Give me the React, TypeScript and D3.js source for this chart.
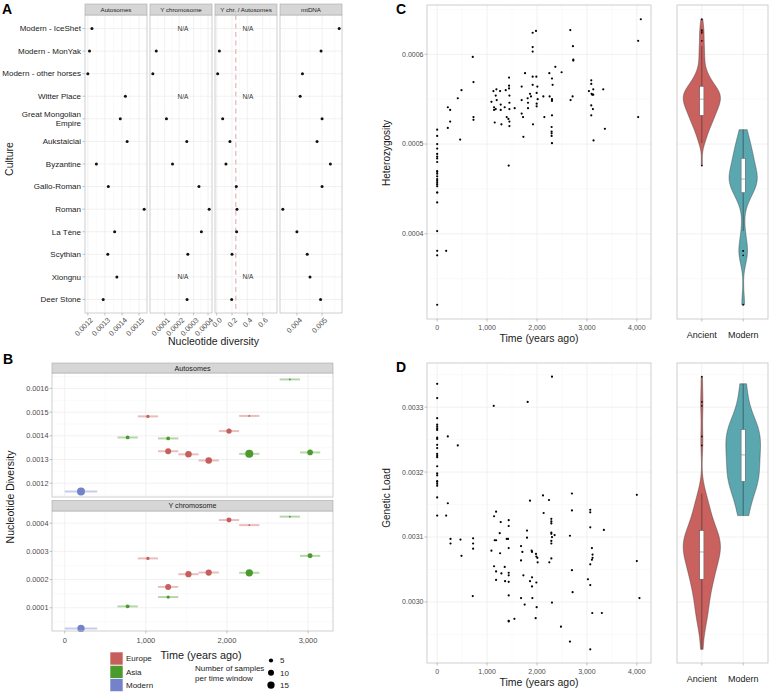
import React from "react";
import * as d3 from "d3";

const W = 770;
const H = 692;
const FONT = "'Liberation Sans', Arial, Helvetica, sans-serif";
const GRID_MAJOR = "#ebebeb";
const GRID_MINOR = "#f5f5f5";
const BORDER = "#c2c2c2";
const TICK_TEXT = "#4d4d4d";
const TICK = "#9a9a9a";

// ---------------- Panel A data ----------------
const cultures = [
  "Modern - IceShet",
  "Modern - MonYak",
  "Modern - other horses",
  "Witter Place",
  "Great Mongolian\nEmpire",
  "Aukstaiciai",
  "Byzantine",
  "Gallo-Roman",
  "Roman",
  "La Tène",
  "Scythian",
  "Xiongnu",
  "Deer Stone",
];
const autosomeDiversity = [0.001224, 0.00121, 0.0012, 0.00142, 0.00139, 0.00143, 0.00125, 0.00132, 0.00153, 0.001357, 0.001317, 0.00137, 0.00129];
const yChrDiversity = [null, 0.0000415, 0.0000176, null, 0.000112, 0.000253, 0.000154, 0.000337, 0.000408, 0.000354, 0.00026, null, 0.000255];
const yAutoRatio = [null, 0.035, 0.013, null, 0.078, 0.173, 0.121, 0.256, 0.265, 0.26, 0.2, null, 0.196];
const mtDNADiversity = [0.00568, 0.00496, 0.00422, 0.00413, 0.005, 0.0048, 0.00533, 0.005, 0.00344, 0.004, 0.00441, 0.00452, 0.00494];
const autosomeTicks = [0.0012, 0.0013, 0.0014, 0.0015];
const yChrTicks = [0.0001, 0.0002, 0.0003, 0.0004];
const ratioTicks = [0, 0.2, 0.4, 0.6];
const mtTicks = [0.004, 0.005];
const ratioDomain = [-0.022, 0.787];
const expectedRatio = 0.25;

// ---------------- Panel B data ----------------
const regions = ["Europe", "Asia", "Modern"];
const regionColors = ["#c65f5c", "#4b9a2c", "#7482c9"];
const bTimeTicks = [0, 1000, 2000, 3000];

const bAutoRegion = ["Asia", "Europe", "Europe", "Europe", "Asia", "Asia", "Europe", "Europe", "Europe", "Asia", "Asia", "Modern"];
const bAutoTime = [2775, 1025, 2275, 2025, 775, 1275, 1275, 1525, 1775, 2275, 3025, 200];
const bAutoValue = [0.001638, 0.001482, 0.001484, 0.00142, 0.001393, 0.001389, 0.001335, 0.001322, 0.001296, 0.001324, 0.00133, 0.001165];
const bAutoN = [1, 3, 1, 8, 4, 4, 10, 12, 12, 18, 9, 18];
const bAutoHalfWindow = [125, 125, 125, 125, 125, 125, 125, 125, 125, 125, 125, 200];
const bAutoTicks = [0.0012, 0.0013, 0.0014, 0.0015, 0.0016];
const bAutoDomain = [0.001142, 0.001665];

const bYRegion = ["Europe", "Europe", "Asia", "Asia", "Europe", "Europe", "Europe", "Asia", "Europe", "Asia", "Asia", "Modern"];
const bYTime = [2025, 2275, 2775, 3025, 1025, 1525, 1775, 2275, 1275, 1275, 775, 200];
const bYValue = [0.000411, 0.000393, 0.000423, 0.000284, 0.000275, 0.000219, 0.000225, 0.000224, 0.000174, 0.000138, 0.000105, 0.000027];
const bYN = [7, 1, 1, 7, 3, 11, 11, 15, 10, 3, 4, 15];
const bYHalfWindow = [125, 125, 125, 125, 125, 125, 125, 125, 125, 125, 125, 200];
const bYTicks = [0.0001, 0.0002, 0.0003, 0.0004];
const bYDomain = [0.0000177, 0.000443];
const sizeLegend = [5, 10, 15];

// ---------------- Panel C data (heterozygosity) ----------------
const MODERN_MAX_AGE = 180;
const groups = ["Ancient", "Modern"];
const groupColors = ["#c9625f", "#5ba7b0"];

const hetTime = [
  0, 0, 0, 0, 0, 0, 0, 0, 0, 0, 0, 0, 0, 0, 0, 0, 0, 0, 0, 0, 0, 0, 0, 0,
  180, 213, 260, 260, 213, 413, 487, 460, 713, 727, 727, 727,
  1087, 1127, 1140, 1140, 1153, 1173, 1187, 1193, 1173, 1260, 1273, 1273, 1287,
  1373, 1353, 1393, 1427, 1440, 1440, 1440, 1447, 1447, 1447, 1447, 1447, 1433,
  1553, 1693, 1693, 1693, 1720, 1727, 1760, 1813, 1820, 1820, 1860, 1880,
  1913, 1913, 1913, 1913, 1913, 1920, 1980, 1987, 2007, 1993, 2013, 1993, 1993,
  2127, 2147, 2247, 2253, 2300, 2313, 2300, 2300, 2300, 2293, 2293, 2293, 2293, 2300,
  2367, 2493, 2667, 2673, 2720, 2727, 2727, 2713,
  3040, 3087, 3087, 3093, 3107, 3127, 3087, 3087, 3120, 3127, 3133, 3327, 3360,
  4027, 4080, 4027,
];
const hetValue = [
  0.000516, 0.000509, 0.0005, 0.000495, 0.000489, 0.000486, 0.000484, 0.00048, 0.00047, 0.000469, 0.000467, 0.000464,
  0.000461, 0.000459, 0.000457, 0.000455, 0.000453, 0.000446, 0.000446, 0.000435, 0.000403, 0.000381, 0.000376, 0.000321,
  0.000381, 0.000541, 0.000538, 0.000525, 0.000518, 0.000551, 0.00056, 0.000505, 0.000597, 0.000569, 0.00053, 0.000527,
  0.000547, 0.000559, 0.000541, 0.000538, 0.000524, 0.000554, 0.000561, 0.000549, 0.000539, 0.000559, 0.000544, 0.000538, 0.000522,
  0.00056, 0.000541, 0.00053, 0.000528, 0.000574, 0.000565, 0.000562, 0.000554, 0.000546, 0.000539, 0.000525, 0.00052, 0.000476,
  0.00054, 0.000564, 0.000549, 0.000534, 0.00053, 0.000508, 0.000579, 0.000551, 0.000546, 0.00054, 0.000556, 0.000553,
  0.000624, 0.000608, 0.000603, 0.000575, 0.000566, 0.000522, 0.000626, 0.000575, 0.000564, 0.000557, 0.00055, 0.000545, 0.000542,
  0.000553, 0.00053, 0.000579, 0.000553, 0.000573, 0.000566, 0.00055, 0.000548, 0.000532, 0.000519, 0.000514, 0.000512, 0.000509, 0.000501,
  0.000586, 0.00058, 0.000627, 0.000549, 0.000609, 0.000594, 0.000593, 0.000553,
  0.000559, 0.000571, 0.000567, 0.000556, 0.000555, 0.000555, 0.000543, 0.000532, 0.000539, 0.000561, 0.000504, 0.000561, 0.000517,
  0.000615, 0.000639, 0.00053,
];
const hetTicks = [0.0004, 0.0005, 0.0006];

// ---------------- Panel D data (genetic load) ----------------
const loadTime = [
  0, 0, 0, 0, 0, 0, 0, 0, 0, 0, 0, 0, 0, 0, 0, 0, 0, 0, 0, 0, 0, 0, 0,
  213, 213, 180, 267, 267, 413, 467, 487, 720, 720, 720, 713,
  1133, 1087, 1140, 1180, 1153, 1180, 1140, 1180, 1180, 1273, 1253, 1260, 1287, 1353, 1360,
  1393, 1420, 1433, 1433, 1433, 1433, 1433, 1433, 1433, 1433, 1433, 1547,
  1680, 1707, 1680, 1727, 1680, 1753, 1800, 1800, 1813, 1860, 1860, 1893, 1900, 1900, 1900, 1907,
  1980, 1987, 2007, 2013, 1987, 1993, 1973, 2120, 2133, 2240, 2247,
  2287, 2287, 2287, 2287, 2287, 2287, 2287, 2287, 2300, 2353, 2300, 2300, 2480,
  2660, 2660, 2700, 2700, 2700, 2713,
  3020, 3067, 3067, 3067, 3067, 3067, 3067, 3100, 3113, 3113, 3100, 3107, 3300, 3340,
  4000, 4000, 4053,
];
const loadValue = [
  0.003336, 0.003314, 0.003283, 0.003273, 0.00327, 0.003267, 0.003265, 0.003253, 0.003251, 0.003242, 0.003237, 0.003228,
  0.003225, 0.003223, 0.003209, 0.003198, 0.003195, 0.003186, 0.003185, 0.003182, 0.003179, 0.003161, 0.003133,
  0.003255, 0.003152, 0.003133, 0.003097, 0.00309, 0.003241, 0.003096, 0.003071, 0.003098, 0.00309, 0.003082, 0.003009,
  0.003302, 0.003079, 0.003132, 0.003139, 0.003095, 0.003095, 0.003055, 0.003047, 0.003034, 0.003123, 0.003106, 0.003075, 0.003044, 0.003054, 0.003032,
  0.003097, 0.003097, 0.003126, 0.003117, 0.003083, 0.003045, 0.003041, 0.003031, 0.00301, 0.002971, 0.00297, 0.002974,
  0.003086, 0.003077, 0.003064, 0.003041, 0.003006, 0.002996, 0.00311, 0.003099, 0.003308, 0.003156, 0.003032, 0.003079, 0.003077, 0.003038, 0.003024, 0.003006,
  0.003074, 0.00307, 0.003068, 0.003061, 0.00303, 0.002992, 0.002975, 0.003164, 0.003137, 0.003157, 0.003061,
  0.003067, 0.003128, 0.003124, 0.003121, 0.003107, 0.003105, 0.003094, 0.00309, 0.0031, 0.003103, 0.003347, 0.002999, 0.002962,
  0.003102, 0.002939, 0.003167, 0.003141, 0.003049, 0.003015,
  0.003035, 0.003142, 0.003138, 0.003115, 0.003058, 0.003026, 0.002927, 0.003083, 0.003073, 0.003068, 0.003065, 0.002983, 0.002983, 0.003111,
  0.003165, 0.003063, 0.003006,
];
const loadTicks = [0.003, 0.0031, 0.0032, 0.0033];
const timeTicks = [0, 1000, 2000, 3000, 4000];

// ---------------- helpers ----------------
function expand(ext: number[], m = 0.05): [number, number] {
  const r = ext[1] - ext[0];
  return [ext[0] - r * m, ext[1] + r * m];
}
function minorTicks(ticks: number[], domain: number[]) {
  const step = ticks[1] - ticks[0];
  const out: number[] = [];
  for (let v = ticks[0] - step / 2; v <= domain[1] + 1e-15; v += step) {
    if (v >= domain[0]) out.push(v);
  }
  for (let v = ticks[0] - step * 1.5; v >= domain[0]; v -= step) out.push(v);
  return out;
}
function nrd0(x: number[]) {
  const s = [...x].sort(d3.ascending);
  const sd = d3.deviation(s) || 0;
  const iqr = (d3.quantile(s, 0.75) as number) - (d3.quantile(s, 0.25) as number);
  let lo = Math.min(sd, iqr / 1.34);
  if (!(lo > 0)) lo = sd || Math.abs(s[0]) || 1;
  return 0.9 * lo * Math.pow(s.length, -0.2);
}
function kde(x: number[], n = 512) {
  const bw = nrd0(x);
  const mn = d3.min(x) as number;
  const mx = d3.max(x) as number;
  const out: [number, number][] = [];
  const c = 1 / (x.length * bw * Math.sqrt(2 * Math.PI));
  for (let i = 0; i < n; i++) {
    const y = mn + ((mx - mn) * i) / (n - 1);
    let s = 0;
    for (const v of x) {
      const z = (y - v) / bw;
      s += Math.exp(-0.5 * z * z);
    }
    out.push([y, s * c]);
  }
  return out;
}

// ---------------- Panel A ----------------
function PanelA() {
  const top = 15;
  const bottom = 313;
  const stripTop = 4;
  const yRow = d3.scalePoint<string>().domain(cultures).range([top, bottom]).padding(0.6);
  const facets = [
    { name: "Autosomes", values: autosomeDiversity, ticks: autosomeTicks, fmt: d3.format(".4f"), x0: 85, x1: 147 },
    { name: "Y chromosome", values: yChrDiversity, ticks: yChrTicks, fmt: d3.format(".4f"), x0: 150, x1: 212 },
    { name: "Y chr. / Autosomes", values: yAutoRatio, ticks: ratioTicks, fmt: d3.format(".1f"), x0: 215, x1: 277, domain: ratioDomain, ref: expectedRatio },
    { name: "mtDNA", values: mtDNADiversity, ticks: mtTicks, fmt: d3.format(".3f"), x0: 280, x1: 342 },
  ];
  return (
    <g>
      <text x={2} y={14} fontSize={14} fontWeight="bold" fill="#000">A</text>
      <text transform={`translate(13,159) rotate(-90)`} textAnchor="middle" fontSize={10.5} fill="#1a1a1a">Culture</text>
      {cultures.map((c) => {
        const lines = c.split("\n");
        const y = yRow(c) as number;
        return (
          <g key={c}>
            {lines.map((l, i) => (
              <text key={i} x={81} y={y + (i - (lines.length - 1) / 2) * 9.5} dy="0.35em" textAnchor="end" fontSize={8} fill="#1a1a1a">{l}</text>
            ))}
            <line x1={82.5} x2={85} y1={y} y2={y} stroke={TICK} strokeWidth={0.6} />
          </g>
        );
      })}
      {facets.map((f) => {
        const vals = f.values.filter((v) => v != null) as number[];
        const domain = (f as any).domain || expand(d3.extent(vals) as number[]);
        const x = d3.scaleLinear().domain(domain).range([f.x0, f.x1]);
        const minors = minorTicks(f.ticks, domain);
        const cx = (f.x0 + f.x1) / 2;
        return (
          <g key={f.name}>
            <rect x={f.x0} y={top} width={f.x1 - f.x0} height={bottom - top} fill="#fff" />
            {minors.map((v, i) => (
              <line key={"mi" + i} x1={x(v)} x2={x(v)} y1={top} y2={bottom} stroke={GRID_MINOR} strokeWidth={0.5} />
            ))}
            {f.ticks.map((v) => (
              <line key={"ma" + v} x1={x(v)} x2={x(v)} y1={top} y2={bottom} stroke={GRID_MAJOR} strokeWidth={0.7} />
            ))}
            {cultures.map((c) => (
              <line key={"h" + c} x1={f.x0} x2={f.x1} y1={yRow(c)} y2={yRow(c)} stroke={GRID_MAJOR} strokeWidth={0.7} />
            ))}
            {(f as any).ref != null && (
              <line x1={x((f as any).ref)} x2={x((f as any).ref)} y1={top} y2={bottom} stroke="#dc9c9c" strokeWidth={0.9} strokeDasharray="5,3.5" />
            )}
            {f.values.map((v, i) =>
              v == null ? (
                <text key={"na" + i} x={cx + 2} y={yRow(cultures[i]) as number} dy="0.35em" textAnchor="middle" fontSize={6.5} fill="#333">N/A</text>
              ) : (
                <circle key={"p" + i} cx={x(v)} cy={yRow(cultures[i]) as number} r={1.5} fill="#111" />
              )
            )}
            <rect x={f.x0} y={top} width={f.x1 - f.x0} height={bottom - top} fill="none" stroke={BORDER} strokeWidth={0.8} />
            <rect x={f.x0} y={stripTop} width={f.x1 - f.x0} height={top - stripTop} fill="#d6d6d6" stroke="#a8a8a8" strokeWidth={0.6} />
            <text x={cx} y={(stripTop + top) / 2} dy="0.35em" textAnchor="middle" fontSize={6.2} fill="#1a1a1a">{f.name}</text>
            {f.ticks.map((v) => (
              <g key={"t" + v}>
                <line x1={x(v)} x2={x(v)} y1={bottom} y2={bottom + 2.5} stroke={TICK} strokeWidth={0.6} />
                <text transform={`translate(${x(v) + 2},${bottom + 4}) rotate(-45)`} textAnchor="end" dy="0.7em" fontSize={7.3} fill={TICK_TEXT}>{f.fmt(v)}</text>
              </g>
            ))}
          </g>
        );
      })}
      <text x={213.5} y={345} textAnchor="middle" fontSize={10.5} fill="#1a1a1a">Nucleotide diversity</text>
    </g>
  );
}

// ---------------- Panel B ----------------
function PanelB() {
  const x0 = 52;
  const x1 = 333;
  const facets = [
    { name: "Autosomes", stripTop: 363, top: 373, bottom: 497, region: bAutoRegion, time: bAutoTime, value: bAutoValue, n: bAutoN, half: bAutoHalfWindow, ticks: bAutoTicks, domain: bAutoDomain },
    { name: "Y chromosome", stripTop: 500.5, top: 511, bottom: 631, region: bYRegion, time: bYTime, value: bYValue, n: bYN, half: bYHalfWindow, ticks: bYTicks, domain: bYDomain },
  ];
  const lo = d3.min(facets.flatMap((f) => f.time.map((t, i) => t - f.half[i]))) as number;
  const hi = d3.max(facets.flatMap((f) => f.time.map((t, i) => t + f.half[i]))) as number;
  const xDom = expand([lo, hi]);
  const x = d3.scaleLinear().domain(xDom).range([x0, x1]);
  const xMinors = minorTicks(bTimeTicks, xDom);
  const r = d3.scaleSqrt().domain([0, 15]).range([0, 3.65]);
  const color = d3.scaleOrdinal<string, string>().domain(regions).range(regionColors);
  const fmtY = d3.format(".4f");
  const last = facets[facets.length - 1];
  return (
    <g>
      <text x={3} y={364} fontSize={14} fontWeight="bold" fill="#000">B</text>
      <text transform={`translate(14,497) rotate(-90)`} textAnchor="middle" fontSize={10.5} fill="#1a1a1a">Nucleotide Diversity</text>
      {facets.map((f) => {
        const y = d3.scaleLinear().domain(f.domain).range([f.bottom, f.top]);
        const yMinors = minorTicks(f.ticks, f.domain);
        const order = d3.range(f.time.length).sort((a, b) => f.n[b] - f.n[a]);
        return (
          <g key={f.name}>
            <rect x={x0} y={f.top} width={x1 - x0} height={f.bottom - f.top} fill="#fff" />
            {yMinors.map((v, i) => (
              <line key={"ym" + i} x1={x0} x2={x1} y1={y(v)} y2={y(v)} stroke={GRID_MINOR} strokeWidth={0.5} />
            ))}
            {xMinors.map((v, i) => (
              <line key={"xm" + i} x1={x(v)} x2={x(v)} y1={f.top} y2={f.bottom} stroke={GRID_MINOR} strokeWidth={0.5} />
            ))}
            {f.ticks.map((v) => (
              <line key={"yM" + v} x1={x0} x2={x1} y1={y(v)} y2={y(v)} stroke={GRID_MAJOR} strokeWidth={0.7} />
            ))}
            {bTimeTicks.map((v) => (
              <line key={"xM" + v} x1={x(v)} x2={x(v)} y1={f.top} y2={f.bottom} stroke={GRID_MAJOR} strokeWidth={0.7} />
            ))}
            {order.map((i) => (
              <line key={"bar" + i} x1={x(f.time[i] - f.half[i])} x2={x(f.time[i] + f.half[i])} y1={y(f.value[i])} y2={y(f.value[i])} stroke={color(f.region[i])} strokeOpacity={0.4} strokeWidth={2} />
            ))}
            {order.map((i) => (
              <circle key={"pt" + i} cx={x(f.time[i])} cy={y(f.value[i])} r={r(f.n[i])} fill={color(f.region[i])} />
            ))}
            <rect x={x0} y={f.top} width={x1 - x0} height={f.bottom - f.top} fill="none" stroke={BORDER} strokeWidth={0.8} />
            <rect x={x0} y={f.stripTop} width={x1 - x0} height={f.top - f.stripTop} fill="#d6d6d6" stroke="#a8a8a8" strokeWidth={0.6} />
            <text x={(x0 + x1) / 2} y={(f.stripTop + f.top) / 2} dy="0.35em" textAnchor="middle" fontSize={7.2} fill="#1a1a1a">{f.name}</text>
            {f.ticks.map((v) => (
              <g key={"yt" + v}>
                <line x1={x0 - 2.5} x2={x0} y1={y(v)} y2={y(v)} stroke={TICK} strokeWidth={0.6} />
                <text x={x0 - 3.5} y={y(v)} dy="0.35em" textAnchor="end" fontSize={7.3} fill={TICK_TEXT}>{fmtY(v)}</text>
              </g>
            ))}
          </g>
        );
      })}
      {bTimeTicks.map((v) => (
        <g key={"xt" + v}>
          <line x1={x(v)} x2={x(v)} y1={last.bottom} y2={last.bottom + 2.5} stroke={TICK} strokeWidth={0.6} />
          <text x={x(v)} y={last.bottom + 11.5} textAnchor="middle" fontSize={7.5} fill={TICK_TEXT}>{d3.format(",")(v)}</text>
        </g>
      ))}
      <text x={201} y={659} textAnchor="middle" fontSize={10.8} fill="#1a1a1a">Time (years ago)</text>
      {regions.map((g, i) => (
        <g key={g}>
          <rect x={110} y={652 + i * 13.3} width={13} height={13} fill={color(g)} stroke="#fff" strokeWidth={0.6} />
          <text x={126} y={652 + i * 13.3 + 6.5} dy="0.35em" fontSize={8} fill="#1a1a1a">{g}</text>
        </g>
      ))}
      <text x={195} y={671} fontSize={8} fill="#1a1a1a">Number of samples</text>
      <text x={195} y={681} fontSize={8} fill="#1a1a1a">per time window</text>
      {sizeLegend.map((s, i) => (
        <g key={s}>
          <circle cx={271} cy={660.5 + i * 12.3} r={r(s)} fill="#000" />
          <text x={280} y={660.5 + i * 12.3} dy="0.35em" fontSize={8} fill="#1a1a1a">{s}</text>
        </g>
      ))}
    </g>
  );
}

// ---------------- Panels C & D ----------------
function TimeViolinPanel(props: {
  letter: string;
  top: number;
  bottom: number;
  times: number[];
  values: number[];
  yTicks: number[];
  yFmt: (v: number) => string;
  yTitle: string;
  yTitleY: number;
}) {
  const { letter, top, bottom, times, values, yTicks, yFmt, yTitle, yTitleY } = props;
  const sx0 = 427;
  const sx1 = 651;
  const vx0 = 677;
  const vx1 = 768;
  const xDom = expand(d3.extent([...hetTime, ...loadTime]) as number[]);
  const x = d3.scaleLinear().domain(xDom).range([sx0, sx1]);
  const yDom = expand(d3.extent(values) as number[]);
  const y = d3.scaleLinear().domain(yDom).range([bottom, top]);
  const yMinors = minorTicks(yTicks, yDom);
  const xMinors = minorTicks(timeTicks, xDom);
  const cat = d3.scalePoint<string>().domain(groups).range([vx0, vx1]).padding(0.6);
  const step = cat.step();
  const color = d3.scaleOrdinal<string, string>().domain(groups).range(groupColors);

  const grouped = groups.map((g) =>
    values.filter((_, i) => (g === "Modern" ? times[i] <= MODERN_MAX_AGE : times[i] > MODERN_MAX_AGE))
  );
  const dens = grouped.map((vals) => kde(vals));
  const maxD = d3.max(dens.flat().map((d) => d[1])) as number;

  return (
    <g>
      <text x={396} y={top + 9} fontSize={14} fontWeight="bold" fill="#000">{letter}</text>
      <text transform={`translate(390,${yTitleY}) rotate(-90)`} textAnchor="middle" fontSize={10} fill="#1a1a1a">{yTitle}</text>
      {/* scatter panel */}
      <rect x={sx0} y={top} width={sx1 - sx0} height={bottom - top} fill="#fff" />
      {yMinors.map((v, i) => (
        <line key={"ym" + i} x1={sx0} x2={sx1} y1={y(v)} y2={y(v)} stroke={GRID_MINOR} strokeWidth={0.5} />
      ))}
      {xMinors.map((v, i) => (
        <line key={"xm" + i} x1={x(v)} x2={x(v)} y1={top} y2={bottom} stroke={GRID_MINOR} strokeWidth={0.5} />
      ))}
      {yTicks.map((v) => (
        <line key={"yM" + v} x1={sx0} x2={sx1} y1={y(v)} y2={y(v)} stroke={GRID_MAJOR} strokeWidth={0.7} />
      ))}
      {timeTicks.map((v) => (
        <line key={"xM" + v} x1={x(v)} x2={x(v)} y1={top} y2={bottom} stroke={GRID_MAJOR} strokeWidth={0.7} />
      ))}
      {values.map((v, i) => (
        <circle key={"p" + i} cx={x(times[i])} cy={y(v)} r={1.1} fill="#000" />
      ))}
      <rect x={sx0} y={top} width={sx1 - sx0} height={bottom - top} fill="none" stroke={BORDER} strokeWidth={0.8} />
      {yTicks.map((v) => (
        <g key={"yt" + v}>
          <line x1={sx0 - 2.5} x2={sx0} y1={y(v)} y2={y(v)} stroke={TICK} strokeWidth={0.6} />
          <text x={sx0 - 3.5} y={y(v)} dy="0.35em" textAnchor="end" fontSize={7} fill={TICK_TEXT}>{yFmt(v)}</text>
        </g>
      ))}
      {timeTicks.map((v) => (
        <g key={"xt" + v}>
          <line x1={x(v)} x2={x(v)} y1={bottom} y2={bottom + 2.5} stroke={TICK} strokeWidth={0.6} />
          <text x={x(v)} y={bottom + 11} textAnchor="middle" fontSize={7} fill={TICK_TEXT}>{d3.format(",")(v)}</text>
        </g>
      ))}
      <text x={(sx0 + sx1) / 2} y={bottom + 23} textAnchor="middle" fontSize={10.5} fill="#1a1a1a">Time (years ago)</text>

      {/* violin panel */}
      <rect x={vx0} y={top} width={vx1 - vx0} height={bottom - top} fill="#fff" />
      {yMinors.map((v, i) => (
        <line key={"vym" + i} x1={vx0} x2={vx1} y1={y(v)} y2={y(v)} stroke={GRID_MINOR} strokeWidth={0.5} />
      ))}
      {yTicks.map((v) => (
        <line key={"vyM" + v} x1={vx0} x2={vx1} y1={y(v)} y2={y(v)} stroke={GRID_MAJOR} strokeWidth={0.7} />
      ))}
      {groups.map((g) => (
        <line key={"vx" + g} x1={cat(g)} x2={cat(g)} y1={top} y2={bottom} stroke={GRID_MAJOR} strokeWidth={0.7} />
      ))}
      {groups.map((g, gi) => {
        const cx = cat(g) as number;
        const hw = (d: [number, number]) => (d[1] / maxD) * 0.45 * step;
        const area = d3
          .area<[number, number]>()
          .y((d) => y(d[0]))
          .x0((d) => cx - hw(d))
          .x1((d) => cx + hw(d));
        const s = [...grouped[gi]].sort(d3.ascending);
        const q1 = d3.quantile(s, 0.25) as number;
        const q2 = d3.quantile(s, 0.5) as number;
        const q3 = d3.quantile(s, 0.75) as number;
        const iqr = q3 - q1;
        const upper = d3.max(s.filter((v) => v <= q3 + 1.5 * iqr)) as number;
        const lower = d3.min(s.filter((v) => v >= q1 - 1.5 * iqr)) as number;
        const outliers = s.filter((v) => v > q3 + 1.5 * iqr || v < q1 - 1.5 * iqr);
        const bw = 0.1 * step;
        return (
          <g key={"v" + g}>
            <path d={area(dens[gi]) as string} fill={color(g)} stroke="#3a3a3a" strokeWidth={0.45} />
            <line x1={cx} x2={cx} y1={y(upper)} y2={y(q3)} stroke="#222" strokeWidth={0.5} />
            <line x1={cx} x2={cx} y1={y(lower)} y2={y(q1)} stroke="#222" strokeWidth={0.5} />
            <rect x={cx - bw / 2} y={y(q3)} width={bw} height={y(q1) - y(q3)} fill="#fff" stroke="#444" strokeWidth={0.4} />
            <line x1={cx - bw / 2} x2={cx + bw / 2} y1={y(q2)} y2={y(q2)} stroke="#777" strokeWidth={0.6} />
            {outliers.map((v, i) => (
              <circle key={i} cx={cx} cy={y(v)} r={0.9} fill="#111" />
            ))}
          </g>
        );
      })}
      <rect x={vx0} y={top} width={vx1 - vx0} height={bottom - top} fill="none" stroke={BORDER} strokeWidth={0.8} />
      {groups.map((g) => (
        <g key={"vt" + g}>
          <line x1={cat(g)} x2={cat(g)} y1={bottom} y2={bottom + 2.5} stroke={TICK} strokeWidth={0.6} />
          <text x={cat(g)} y={bottom + 19} textAnchor="middle" fontSize={9} fill="#1a1a1a">{g}</text>
        </g>
      ))}
    </g>
  );
}

export default function App() {
  return (
    <svg
      width={W}
      height={H}
      viewBox={`0 0 ${W} ${H}`}
      style={{ position: "absolute", left: 0, top: 0, background: "#fff" }}
      fontFamily={FONT}
    >
      <rect width={W} height={H} fill="#fff" />
      <PanelA />
      <PanelB />
      <TimeViolinPanel
        letter="C"
        top={5}
        bottom={319}
        times={hetTime}
        values={hetValue}
        yTicks={hetTicks}
        yFmt={d3.format(".4f")}
        yTitle="Heterozygosity"
        yTitleY={153}
      />
      <TimeViolinPanel
        letter="D"
        top={363}
        bottom={663}
        times={loadTime}
        values={loadValue}
        yTicks={loadTicks}
        yFmt={d3.format(".4f")}
        yTitle="Genetic Load"
        yTitleY={498}
      />
    </svg>
  );
}
